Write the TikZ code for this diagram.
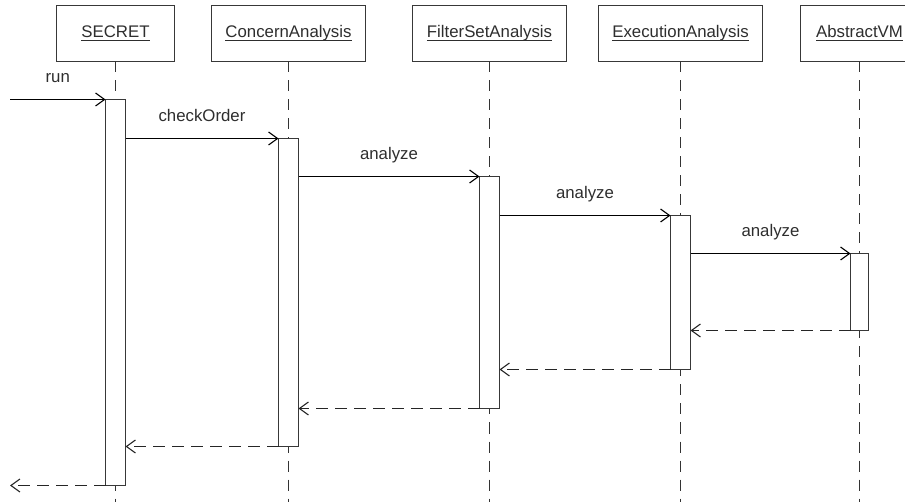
\documentclass[tikz,border=0pt]{standalone}
\usepackage{fontspec}
\setmainfont{Liberation Sans}
\usetikzlibrary{arrows.meta}

% underline at a fixed depth, independent of descenders
\newlength\ulwidth
\newcommand\ultext[1]{\settowidth\ulwidth{#1}\rlap{#1}\rule[-3.5pt]{\ulwidth}{1pt}}

\begin{document}
\begin{tikzpicture}[x=1pt, y=-1pt,
  font=\fontsize{16.8}{19}\selectfont,
  every node/.style={text=black!82},
  objbox/.style={draw=black!78, line width=1.2pt, fill=white, inner sep=0pt, outer sep=0pt,
                 minimum height=56pt},
  lifeline/.style={draw=black!80, line width=1.2pt, dash pattern=on 11pt off 8pt},
  actbox/.style={draw=black!78, line width=1.2pt, fill=white, inner sep=0pt, outer sep=0pt,
                 minimum width=20pt, anchor=north},
  call/.style={draw=black, line width=1.2pt, -{Straight Barb[length=9pt, width=13pt, line width=1.1pt]}},
  reply/.style={draw=black!85, line width=1.2pt, dash pattern=on 12pt off 7pt,
                -{Straight Barb[length=9pt, width=13pt, line width=1.1pt]}},
  msg/.style={anchor=base, inner sep=0pt}
]
\useasboundingbox (0,0) rectangle (905,502);
\clip (0,0) rectangle (905,502);

% object boxes
\node[objbox, minimum width=118pt] (h1) at (115.5,33.5) {};
\node[objbox, minimum width=154pt] (h2) at (288.5,33.5) {};
\node[objbox, minimum width=154pt] (h3) at (489.5,33.5) {};
\node[objbox, minimum width=164pt] (h4) at (680.5,33.5) {};
\node[objbox, minimum width=118pt] (h5) at (859.5,33.5) {};

\node[msg] (t1) at (115.5,38) {\ultext{SECRET}};
\node[msg] (t2) at (288.5,38) {\ultext{ConcernAnalysis}};
\node[msg] (t3) at (489.5,38) {\ultext{FilterSetAnalysis}};
\node[msg] (t4) at (680.5,38) {\ultext{ExecutionAnalysis}};
\node[msg] (t5) at (859.5,38) {\ultext{AbstractVM}};

% lifelines
\coordinate (b1) at (115.5,502);
\coordinate (b2) at (288.5,502);
\coordinate (b3) at (489.5,502);
\coordinate (b4) at (680.5,502);
\coordinate (b5) at (859.5,502);
\foreach \i in {1,...,5} \draw[lifeline] (h\i.south) -- (b\i);

% activations
\node[actbox, minimum height=386pt] (a1) at (115.5,99.5) {};
\node[actbox, minimum height=308pt] (a2) at (288.5,138.5) {};
\node[actbox, minimum height=232pt] (a3) at (489.5,176.5) {};
\node[actbox, minimum height=154pt] (a4) at (680.5,215.5) {};
\node[actbox, minimum height=77pt, minimum width=18pt] (a5) at (859.5,253.5) {};

% incoming and outgoing ends
\coordinate (in) at (10,99.5);
\coordinate (out) at (10,485.5);

% calls
\draw[call] (in) -- (a1.north west) node[msg, midway, yshift=17pt] (m1) {run};
\draw[call] (a2.north west -| a1.east) -- (a2.north west) node[msg, midway, yshift=17pt] (m2) {checkOrder};
\draw[call] (a3.north west -| a2.east) -- (a3.north west) node[msg, midway, yshift=17pt] (m3) {analyze};
\draw[call] (a4.north west -| a3.east) -- (a4.north west) node[msg, midway, yshift=17pt] (m4) {analyze};
\draw[call] (a5.north west -| a4.east) -- (a5.north west) node[msg, midway, yshift=17pt] (m5) {analyze};

% replies
\draw[reply] (a5.south west) -- (a5.south west -| a4.east);
\draw[reply] (a4.south west) -- (a4.south west -| a3.east);
\draw[reply] (a3.south west) -- (a3.south west -| a2.east);
\draw[reply] (a2.south west) -- (a2.south west -| a1.east);
\draw[reply] (a1.south west) -- (out);
\end{tikzpicture}
\end{document}
